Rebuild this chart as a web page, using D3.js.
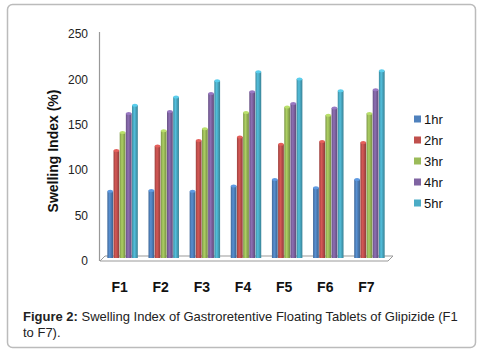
<!DOCTYPE html>
<html>
<head>
<meta charset="utf-8">
<script src="https://cdn.jsdelivr.net/npm/d3@7"></script>
<style>
  body { margin: 0; background: #fff; }
  svg { display: block; font-family: "Liberation Sans", Arial, sans-serif; }
</style>
</head>
<body>
<div id="svg-area"></div>
<script>
// Data
var formulations = ["F1", "F2", "F3", "F4", "F5", "F6", "F7"];
var seriesNames = ["1hr", "2hr", "3hr", "4hr", "5hr"];
var hr1 = [78, 79, 78, 84, 91, 82, 91];
var hr2 = [123, 128, 134, 138, 130, 133, 132];
var hr3 = [143, 145, 147, 165, 171, 162, 164];
var hr4 = [164, 166, 186, 188, 175, 170, 190];
var hr5 = [173, 182, 200, 210, 202, 189, 211];
var yTicks = [0, 50, 100, 150, 200, 250];

var seriesValues = [hr1, hr2, hr3, hr4, hr5];
var colors = ["#4F81BD", "#C0504D", "#9BBB59", "#8064A2", "#4BACC6"];

var svgWidth = 478;
var svgHeight = 354;

var svg = d3.select("#svg-area")
  .append("svg")
  .attr("width", svgWidth)
  .attr("height", svgHeight);

// Outer rounded frame
svg.append("rect")
  .attr("x", 7.5).attr("y", 4.5)
  .attr("width", 468).attr("height", 343)
  .attr("rx", 5).attr("ry", 5)
  .attr("fill", "#fff")
  .attr("stroke", "#bbb")
  .attr("stroke-width", 1.5);

// Scales
var x0 = d3.scaleBand()
  .domain(formulations)
  .range([102, 390])
  .paddingInner(0.25)
  .paddingOuter(0.125);

var x1 = d3.scaleBand()
  .domain(seriesNames)
  .range([0, x0.bandwidth()]);

var y = d3.scaleLinear()
  .domain([0, 250])
  .range([260.5, 34]);

// Gradients for the cylinder look
var defs = svg.append("defs");
colors.forEach(function(c, i) {
  var g = defs.append("linearGradient")
    .attr("id", "grad" + i)
    .attr("x1", "0%").attr("x2", "100%");
  g.append("stop").attr("offset", "0%").attr("stop-color", d3.color(c).darker(0.6));
  g.append("stop").attr("offset", "40%").attr("stop-color", d3.color(c).brighter(0.3));
  g.append("stop").attr("offset", "100%").attr("stop-color", d3.color(c).darker(0.8));
});

// 3D floor
var floorY = 258;
svg.append("path")
  .attr("d", "M100,261 L105,256 L393,256 L388,261 Z")
  .attr("fill", "#fff")
  .attr("stroke", "#999")
  .attr("stroke-width", 1);

// Y axis line
svg.append("line")
  .attr("x1", 99.5).attr("x2", 99.5)
  .attr("y1", 32).attr("y2", 261)
  .attr("stroke", "#999")
  .attr("stroke-width", 1.2);

// Y axis labels
var leftAxis = d3.axisLeft(y).tickValues(yTicks).tickSize(0).tickPadding(0);
var yAxisG = svg.append("g")
  .attr("transform", "translate(88, 0)")
  .call(leftAxis);
yAxisG.select(".domain").remove();
yAxisG.selectAll("text")
  .attr("font-size", 12)
  .attr("font-family", "Liberation Sans, Arial, sans-serif")
  .attr("fill", "#222");

// Y title
svg.append("text")
  .attr("transform", "translate(58, 151) rotate(-90)")
  .attr("text-anchor", "middle")
  .attr("font-size", 14)
  .attr("font-weight", "bold")
  .attr("fill", "#111")
  .text("Swelling Index (%)");

// Bars
var groups = svg.selectAll(".grp")
  .data(formulations)
  .enter().append("g")
  .attr("transform", function(d) { return "translate(" + x0(d) + ",0)"; });

seriesNames.forEach(function(s, si) {
  groups.each(function(f, fi) {
    var v = seriesValues[si][fi];
    var g = d3.select(this);
    var bx = x1(s);
    var bw = x1.bandwidth();
    var top = y(v) + 1.5;
    g.append("rect")
      .attr("x", bx + 0.2)
      .attr("y", top)
      .attr("width", bw - 0.4)
      .attr("height", floorY - top)
      .attr("fill", "url(#grad" + si + ")");
    g.append("ellipse")
      .attr("cx", bx + bw / 2)
      .attr("cy", top)
      .attr("rx", bw / 2 - 0.2)
      .attr("ry", 1.5)
      .attr("fill", d3.color(colors[si]).brighter(0.5));
  });
});

// Category labels
svg.selectAll(".cat")
  .data(formulations)
  .enter().append("text")
  .attr("x", function(d) { return x0(d) + x0.bandwidth() / 2 - 3; })
  .attr("y", 292)
  .attr("text-anchor", "middle")
  .attr("font-size", 14)
  .attr("font-weight", "bold")
  .attr("fill", "#111")
  .text(function(d) { return d; });

// Legend
var legend = svg.selectAll(".leg")
  .data(seriesNames)
  .enter().append("g")
  .attr("transform", function(d, i) { return "translate(414," + (119 + i * 21) + ")"; });
legend.append("rect")
  .attr("x", 0).attr("y", -3.5)
  .attr("width", 7).attr("height", 7)
  .attr("fill", function(d, i) { return colors[i]; });
legend.append("text")
  .attr("x", 10).attr("y", 5)
  .attr("font-size", 13)
  .attr("fill", "#111")
  .text(function(d) { return d; });

// Caption
var cap = svg.append("text")
  .attr("x", 23).attr("y", 321)
  .attr("font-size", 13)
  .attr("fill", "#222");
cap.append("tspan").attr("font-weight", "bold").text("Figure 2:");
cap.append("tspan").text(" Swelling Index of Gastroretentive Floating Tablets of Glipizide (F1");
svg.append("text")
  .attr("x", 23).attr("y", 337)
  .attr("font-size", 13)
  .attr("fill", "#222")
  .text("to F7).");
</script>
</body>
</html>
